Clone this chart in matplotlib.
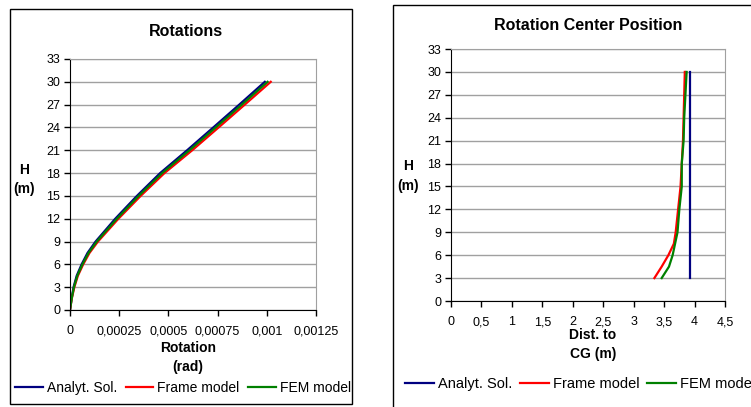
import matplotlib.pyplot as plt
from matplotlib.patches import Rectangle

plt.rcParams['font.family'] = ['Liberation Sans', 'DejaVu Sans']

# Heights (m)
H = [0, 1.5, 3, 4.5, 6, 7.5, 9, 10.5, 12, 15, 18, 21, 24, 27, 30]
H_rc = [3, 4.5, 6, 7.5, 9, 12, 15, 18, 21, 24, 27, 30]

# Rotations (rad)
rot_analyt = [0, 0.000008, 0.000018, 0.000034, 0.000059, 0.000089, 0.00013,
              0.00018, 0.00023, 0.00034, 0.000458, 0.000595, 0.000728, 0.00086, 0.00099]
rot_frame = [0, 0.000009, 0.000022, 0.00004, 0.000067, 0.000099, 0.000142,
             0.000194, 0.000246, 0.000359, 0.00048, 0.000621, 0.000755, 0.000888, 0.00102]
rot_fem = [0, 0.0000085, 0.00002, 0.000037, 0.000063, 0.000094, 0.000136,
           0.000187, 0.000238, 0.000349, 0.000468, 0.000607, 0.00074, 0.000873, 0.001004]

# Rotation center position, distance to CG (m)
rc_analyt = [3.93, 3.93, 3.93, 3.93, 3.93, 3.93, 3.93, 3.93, 3.93, 3.93, 3.93, 3.93]
rc_frame = [3.34, 3.46, 3.57, 3.66, 3.69, 3.73, 3.77, 3.79, 3.81, 3.82, 3.83, 3.84]
rc_fem = [3.46, 3.58, 3.64, 3.68, 3.72, 3.75, 3.79, 3.79, 3.82, 3.83, 3.85, 3.87]

yticks = list(range(0, 34, 3))
rot_ticks = [0, 0.00025, 0.0005, 0.00075, 0.001, 0.00125]
rot_ticklabels = ["0", "0,00025", "0,0005", "0,00075", "0,001", "0,00125"]
rc_ticks = [0, 0.5, 1, 1.5, 2, 2.5, 3, 3.5, 4, 4.5]
rc_ticklabels = ["0", "0,5", "1", "1,5", "2", "2,5", "3", "3,5", "4", "4,5"]

names = ["Analyt. Sol.", "Frame model", "FEM model"]
colors = ["#000080", "#ff0000", "#008000"]

W, Hpx = 751, 407
fig = plt.figure(figsize=(W / 100, Hpx / 100), dpi=100)


def fbox(x0, y0, x1, y1):
    # pixel box (top-left origin) -> figure fraction
    return [x0 / W, 1 - y1 / Hpx, (x1 - x0) / W, (y1 - y0) / Hpx]


def ftext(x, y, s, **kw):
    fig.text(x / W, 1 - y / Hpx, s, ha="center", va="center", **kw)


# panel borders
fig.patches.append(Rectangle((10 / W, 1 - 404 / Hpx), 342 / W, 395 / Hpx,
                             transform=fig.transFigure, fill=False,
                             edgecolor="black", lw=1))
fig.patches.append(Rectangle((393 / W, -0.05), 0.6, 1 - 5 / Hpx + 0.05,
                             transform=fig.transFigure, fill=False,
                             edgecolor="black", lw=1))


def style(ax):
    ax.set_yticks(yticks)
    ax.set_ylim(0, 33)
    ax.grid(axis="y", color="#a0a0a0", lw=1)
    ax.set_axisbelow(True)
    for s in ["top", "right"]:
        ax.spines[s].set_color("#a0a0a0")
    for s in ["left", "bottom"]:
        ax.spines[s].set_color("black")
    ax.tick_params(direction="out", length=4, labelsize=9, width=1)
    ax.tick_params(axis="x", pad=7)
    ax.tick_params(axis="y", pad=3)


# ---- Rotations
ax1 = fig.add_axes(fbox(70, 59, 316, 310))
ax1.plot(rot_analyt, H, color=colors[0], lw=1.6, label=names[0])
ax1.plot(rot_frame, H, color=colors[1], lw=1.6, label=names[1])
ax1.plot(rot_fem, H, color=colors[2], lw=1.6, label=names[2])
ax1.set_xlim(0, 0.00125)
ax1.set_xticks(rot_ticks)
ax1.set_xticklabels(rot_ticklabels)
style(ax1)
ftext(186, 32, "Rotations", fontsize=11.5, fontweight="bold")
ftext(188, 348, "Rotation", fontsize=10, fontweight="bold")
ftext(188, 367, "(rad)", fontsize=10, fontweight="bold")
ftext(24, 170, "H", fontsize=10, fontweight="bold")
ftext(24, 189, "(m)", fontsize=10, fontweight="bold")
fig.legend(handles=ax1.lines, loc="center left", bbox_to_anchor=(15 / W, 1 - 388 / Hpx),
           ncol=3, frameon=False, fontsize=10, handlelength=2.0, handletextpad=0.3,
           columnspacing=0.6, borderpad=0, borderaxespad=0)

# ---- Rotation center position
ax2 = fig.add_axes(fbox(451, 49, 725, 301))
ax2.plot(rc_analyt, H_rc, color=colors[0], lw=1.6, label=names[0])
ax2.plot(rc_frame, H_rc, color=colors[1], lw=1.6, label=names[1])
ax2.plot(rc_fem, H_rc, color=colors[2], lw=1.6, label=names[2])
ax2.set_xlim(0, 4.5)
ax2.set_xticks(rc_ticks)
ax2.set_xticklabels(rc_ticklabels)
style(ax2)
ftext(588, 26, "Rotation Center Position", fontsize=11.5, fontweight="bold")
ftext(593, 335, "Dist. to", fontsize=10, fontweight="bold")
ftext(593, 354, "CG (m)", fontsize=10, fontweight="bold")
ftext(408, 166, "H", fontsize=10, fontweight="bold")
ftext(408, 186, "(m)", fontsize=10, fontweight="bold")
fig.legend(handles=ax2.lines, loc="center left", bbox_to_anchor=(405 / W, 1 - 384 / Hpx),
           ncol=3, frameon=False, fontsize=10.5, handlelength=2.0, handletextpad=0.27,
           columnspacing=0.5, borderpad=0, borderaxespad=0)

fig.savefig("out.png", dpi=100, facecolor="white")
